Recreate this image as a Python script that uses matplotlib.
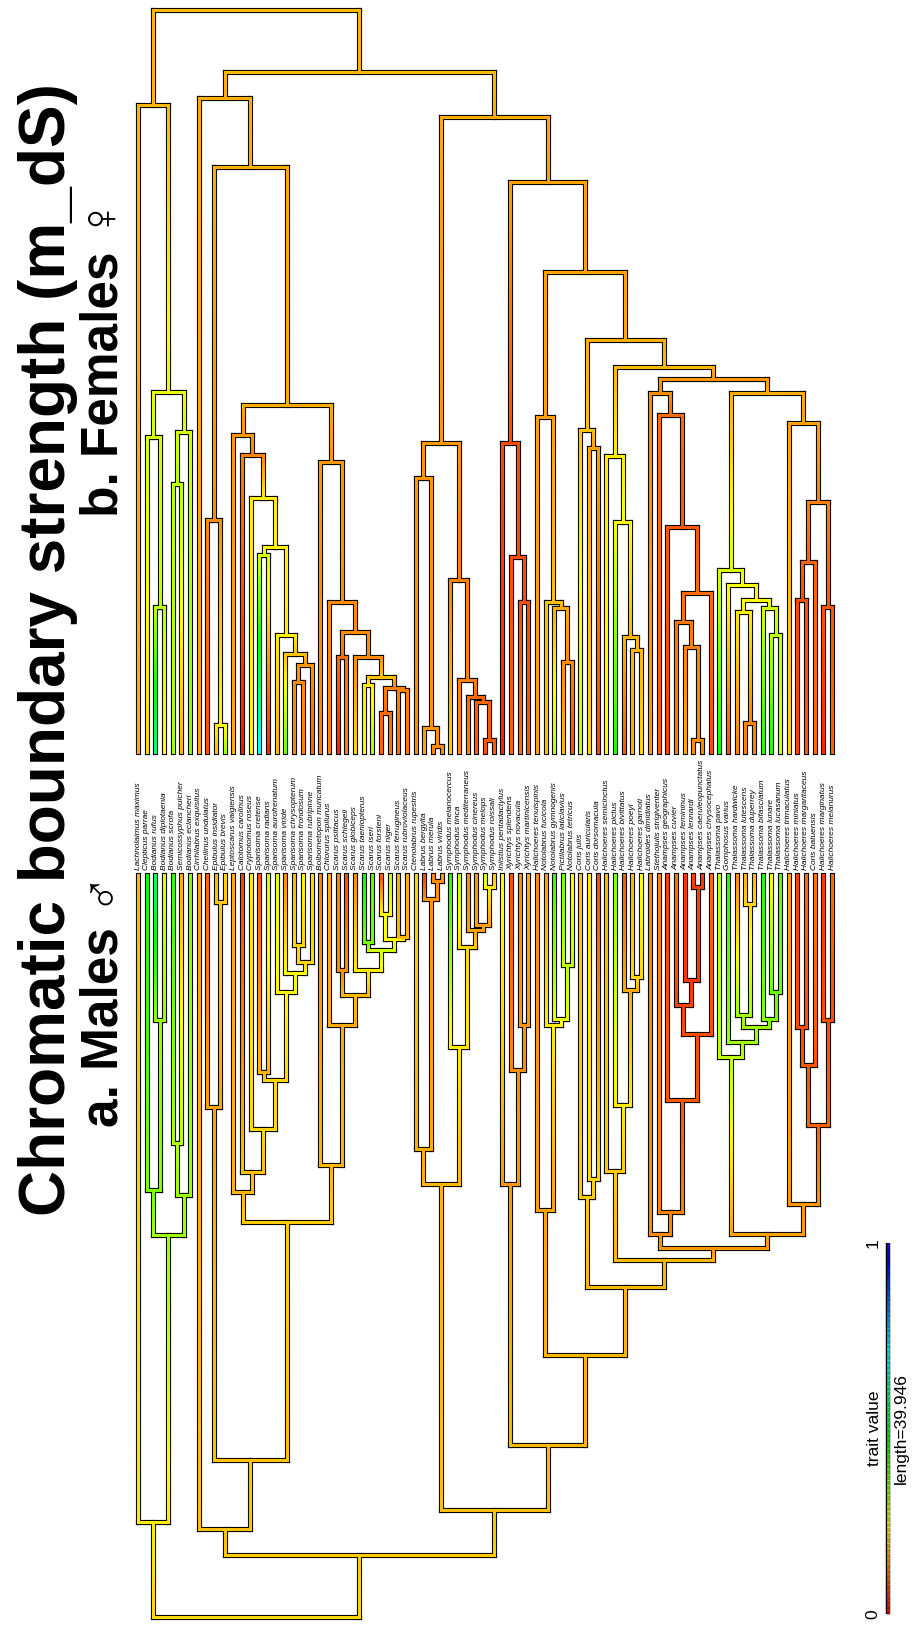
import numpy as np
import matplotlib
matplotlib.use("Agg")
import matplotlib.pyplot as plt
from matplotlib.collections import LineCollection
from matplotlib.colors import hsv_to_rgb

# tip order, left to right
tips = [
    "Lachnolaimus maximus", "Clepticus parrae", "Bodianus rufus", "Bodianus diplotaenia",
    "Bodianus scrofa", "Semicossyphus pulcher", "Bodianus eclancheri", "Cirrhilabrus exquisitus",
    "Cheilinus undulatus", "Epibulus insidiator", "Epibulus brevis", "Leptoscarus vaigiensis",
    "Calotomus carolinus", "Cryptotomus roseus", "Sparisoma cretense", "Sparisoma radians",
    "Sparisoma aurofrenatum", "Sparisoma viride", "Sparisoma chrysopterum", "Sparisoma frondosum",
    "Sparisoma rubripinne", "Bolbometopon muricatum", "Chlorurus spilurus", "Scarus psittacus",
    "Scarus schlegeli", "Scarus globiceps", "Scarus taeniopterus", "Scarus iseri",
    "Scarus forsteni", "Scarus niger", "Scarus ferrugineus", "Scarus rubroviolaceus",
    "Ctenolabrus rupestris", "Labrus bergylta", "Labrus merula", "Labrus viridis",
    "Symphodus melanocercus", "Symphodus tinca", "Symphodus mediterraneus", "Symphodus cinereus",
    "Symphodus melops", "Symphodus roissali", "Iniistius pentadactylus", "Xyrichtys splendens",
    "Xyrichtys novacula", "Xyrichtys martinicensis", "Halichoeres tenuispinis", "Notolabrus fucicola",
    "Notolabrus gymnogenis", "Pictilabrus laticlavius", "Notolabrus tetricus", "Coris julis",
    "Coris auricularis", "Coris dorsomacula", "Halichoeres semicinctus", "Halichoeres pictus",
    "Halichoeres bivittatus", "Halichoeres poeyi", "Halichoeres garnoti", "Labroides dimidiatus",
    "Stethojulis strigiventer", "Anampses geographicus", "Anampses cuvier", "Anampses femininus",
    "Anampses lennardi", "Anampses caeruleopunctatus", "Anampses chrysocephalus", "Thalassoma pavo",
    "Gomphosus varius", "Thalassoma hardwicke", "Thalassoma lutescens", "Thalassoma duperrey",
    "Thalassoma bifasciatum", "Thalassoma lunare", "Thalassoma lucasanum", "Halichoeres trimaculatus",
    "Halichoeres miniatus", "Halichoeres margaritaceus", "Coris batuensis", "Halichoeres marginatus",
    "Halichoeres melanurus",
]

male_tip = [
    .17, .47, .58, .27, .43, .16, .36, .15, .09, .17, .20, .16, .06, .22, .08, .28,
    .26, .13, .17, .23, .20, .12, .16, .12, .07, .13, .47, .40, .08, .30, .16, .16,
    .20, .07, .13, .15, .45, .30, .13, .14, .27, .18, .25, .07, .13, .16, .13, .15,
    .43, .36, .24, .18, .22, .07, .17, .35, .08, .17, .24, .12, .12, .06, .11, .05,
    .06, .05, .10, .30, .45, .13, .17, .17, .45, .24, .40, .15, .06, .10, .11, .05,
    .10,
]

female_tip = [
    .16, .20, .60, .24, .32, .17, .36, .15, .07, .18, .32, .16, .02, .23, .72, .03,
    .17, .37, .12, .12, .09, .12, .12, .03, .12, .20, .23, .32, .09, .11, .10, .11,
    .13, .16, .12, .13, .19, .12, .12, .08, .07, .09, .03, .09, .10, .08, .15, .18,
    .30, .17, .07, .30, .20, .06, .24, .45, .08, .16, .20, .14, .08, .06, .12, .16,
    .13, .12, .07, .47, .07, .12, .12, .12, .45, .45, .28, .20, .06, .08, .10, .03,
    .09,
]

# internal nodes: (node, left child, right child)
clades = [
    ("root", "A", "R1"),
    ("A", "Lachnolaimus maximus", "B"),
    ("B", "B1", "B2"),
    ("B1", "Clepticus parrae", "B1a"),
    ("B1a", "Bodianus rufus", "Bodianus diplotaenia"),
    ("B2", "B2a", "Bodianus eclancheri"),
    ("B2a", "Bodianus scrofa", "Semicossyphus pulcher"),
    ("R1", "C", "D"),
    ("C", "Cirrhilabrus exquisitus", "C2"),
    ("C2", "Ch", "P"),
    ("Ch", "Cheilinus undulatus", "Ep"),
    ("Ep", "Epibulus insidiator", "Epibulus brevis"),
    ("P", "Sp", "Sc"),
    ("Sp", "Leptoscarus vaigiensis", "Sp1"),
    ("Sp1", "Calotomus carolinus", "Sp2"),
    ("Sp2", "Cryptotomus roseus", "Sp3"),
    ("Sp3", "Sp4", "Sp5"),
    ("Sp4", "Sparisoma cretense", "Sparisoma radians"),
    ("Sp5", "Sparisoma aurofrenatum", "Sp6"),
    ("Sp6", "Sparisoma viride", "Sp7"),
    ("Sp7", "Sp8", "Sparisoma rubripinne"),
    ("Sp8", "Sparisoma chrysopterum", "Sparisoma frondosum"),
    ("Sc", "Bolbometopon muricatum", "Sc1"),
    ("Sc1", "Chlorurus spilurus", "Sc2"),
    ("Sc2", "Sc3", "Sc4"),
    ("Sc3", "Scarus psittacus", "Scarus schlegeli"),
    ("Sc4", "Scarus globiceps", "Sc5"),
    ("Sc5", "Sc6", "Sc7"),
    ("Sc6", "Scarus taeniopterus", "Scarus iseri"),
    ("Sc7", "Sc8", "Sc9"),
    ("Sc8", "Scarus forsteni", "Scarus niger"),
    ("Sc9", "Scarus ferrugineus", "Scarus rubroviolaceus"),
    ("D", "L", "E"),
    ("L", "L1", "Sy"),
    ("L1", "Ctenolabrus rupestris", "L2"),
    ("L2", "Labrus bergylta", "L3"),
    ("L3", "Labrus merula", "Labrus viridis"),
    ("Sy", "Symphodus melanocercus", "Sy1"),
    ("Sy1", "Symphodus tinca", "Sy2"),
    ("Sy2", "Symphodus mediterraneus", "Sy3"),
    ("Sy3", "Symphodus cinereus", "Sy4"),
    ("Sy4", "Symphodus melops", "Symphodus roissali"),
    ("E", "F", "G"),
    ("F", "Iniistius pentadactylus", "F1"),
    ("F1", "Xyrichtys splendens", "F2"),
    ("F2", "Xyrichtys novacula", "Xyrichtys martinicensis"),
    ("G", "GL", "H"),
    ("GL", "Halichoeres tenuispinis", "GL1"),
    ("GL1", "Notolabrus fucicola", "GL2"),
    ("GL2", "Notolabrus gymnogenis", "GL3"),
    ("GL3", "Pictilabrus laticlavius", "Notolabrus tetricus"),
    ("H", "Co", "I"),
    ("Co", "Coris julis", "Co1"),
    ("Co1", "Coris auricularis", "Coris dorsomacula"),
    ("I", "Ha", "J"),
    ("Ha", "Halichoeres semicinctus", "Ha1"),
    ("Ha1", "Halichoeres pictus", "Ha2"),
    ("Ha2", "Halichoeres bivittatus", "Ha3"),
    ("Ha3", "Halichoeres poeyi", "Halichoeres garnoti"),
    ("J", "J1", "K"),
    ("J1", "Labroides dimidiatus", "An"),
    ("An", "Stethojulis strigiventer", "An1"),
    ("An1", "Anampses geographicus", "An2"),
    ("An2", "An3", "Anampses chrysocephalus"),
    ("An3", "Anampses cuvier", "An4"),
    ("An4", "Anampses femininus", "An5"),
    ("An5", "Anampses lennardi", "Anampses caeruleopunctatus"),
    ("K", "Th", "Hm"),
    ("Th", "Thalassoma pavo", "Th1"),
    ("Th1", "Gomphosus varius", "Th2"),
    ("Th2", "Th3", "Th5"),
    ("Th3", "Thalassoma hardwicke", "Th4"),
    ("Th4", "Thalassoma lutescens", "Thalassoma duperrey"),
    ("Th5", "Thalassoma bifasciatum", "Th6"),
    ("Th6", "Thalassoma lunare", "Thalassoma lucasanum"),
    ("Hm", "Halichoeres trimaculatus", "Hm1"),
    ("Hm1", "Hm2", "Hm4"),
    ("Hm2", "Hm3", "Coris batuensis"),
    ("Hm3", "Halichoeres miniatus", "Halichoeres margaritaceus"),
    ("Hm4", "Halichoeres marginatus", "Halichoeres melanurus"),
]

# distance from root
node_age = {
    "root": 0.0, "A": 10.2, "B": 41.1, "B1": 46.0, "B1a": 64.3, "B2": 45.4, "B2a": 51.0,
    "R1": 6.7, "C": 9.5, "C2": 16.9, "Ch": 54.9, "Ep": 77.0, "P": 42.5,
    "Sp": 45.8, "Sp1": 47.9, "Sp2": 52.5, "Sp3": 57.8, "Sp4": 58.7, "Sp5": 67.3,
    "Sp6": 69.4, "Sp7": 70.5, "Sp8": 72.4,
    "Sc": 48.7, "Sc1": 63.7, "Sc2": 67.0, "Sc3": 69.7, "Sc4": 69.7, "Sc5": 71.8,
    "Sc6": 72.7, "Sc7": 73.0, "Sc8": 75.7, "Sc9": 73.2,
    "D": 11.5, "L": 46.6, "L1": 50.4, "L2": 77.3, "L3": 79.3,
    "Sy": 61.4, "Sy1": 72.1, "Sy2": 74.0, "Sy3": 74.5, "Sy4": 78.6,
    "E": 18.5, "F": 46.6, "F1": 58.9, "F2": 63.8,
    "G": 28.2, "GL": 43.8, "GL1": 63.8, "GL2": 64.4, "GL3": 70.2,
    "H": 35.5, "Co": 45.2, "Co1": 47.2,
    "I": 38.4, "Ha": 48.0, "Ha1": 55.1, "Ha2": 67.5, "Ha3": 68.9,
    "J": 39.7, "J1": 41.2, "An": 43.6, "An1": 55.7, "An2": 62.8, "An3": 65.9,
    "An4": 68.6, "An5": 78.6,
    "K": 41.2, "Th": 60.3, "Th1": 61.9, "Th2": 63.5, "Th3": 64.8, "Th4": 76.8,
    "Th5": 64.4, "Th6": 67.3,
    "Hm": 44.5, "Hm1": 53.0, "Hm2": 59.4, "Hm3": 63.5, "Hm4": 64.3,
}

male_node = {
    "root": .20, "A": .22, "B": .33, "B1": .36, "B1a": .34, "B2": .33, "B2a": .31,
    "R1": .19, "C": .18, "C2": .18, "Ch": .15, "Ep": .19, "P": .19,
    "Sp": .17, "Sp1": .18, "Sp2": .20, "Sp3": .20, "Sp4": .17, "Sp5": .23, "Sp6": .24,
    "Sp7": .20, "Sp8": .20,
    "Sc": .17, "Sc1": .16, "Sc2": .17, "Sc3": .13, "Sc4": .22, "Sc5": .28, "Sc6": .37,
    "Sc7": .24, "Sc8": .24, "Sc9": .17,
    "D": .18, "L": .17, "L1": .16, "L2": .14, "L3": .13,
    "Sy": .22, "Sy1": .20, "Sy2": .15, "Sy3": .15, "Sy4": .22,
    "E": .17, "F": .14, "F1": .13, "F2": .14,
    "G": .17, "GL": .15, "GL1": .22, "GL2": .26, "GL3": .30,
    "H": .17, "Co": .19, "Co1": .20,
    "I": .17, "Ha": .19, "Ha1": .22, "Ha2": .16, "Ha3": .20,
    "J": .14, "J1": .13, "An": .12, "An1": .08, "An2": .07, "An3": .06, "An4": .05, "An5": .06,
    "K": .15, "Th": .30, "Th1": .33, "Th2": .33, "Th3": .33, "Th4": .20, "Th5": .36, "Th6": .38,
    "Hm": .14, "Hm1": .09, "Hm2": .08, "Hm3": .07, "Hm4": .07,
}

female_node = {
    "root": .17, "A": .17, "B": .26, "B1": .28, "B1a": .30, "B2": .28, "B2a": .30,
    "R1": .17, "C": .16, "C2": .16, "Ch": .13, "Ep": .23, "P": .16,
    "Sp": .14, "Sp1": .12, "Sp2": .22, "Sp3": .23, "Sp4": .28, "Sp5": .22, "Sp6": .18,
    "Sp7": .14, "Sp8": .13,
    "Sc": .14, "Sc1": .13, "Sc2": .13, "Sc3": .10, "Sc4": .13, "Sc5": .18, "Sc6": .22,
    "Sc7": .12, "Sc8": .10, "Sc9": .12,
    "D": .16, "L": .14, "L1": .14, "L2": .14, "L3": .13,
    "Sy": .12, "Sy1": .12, "Sy2": .10, "Sy3": .09, "Sy4": .08,
    "E": .15, "F": .07, "F1": .07, "F2": .07,
    "G": .15, "GL": .15, "GL1": .18, "GL2": .16, "GL3": .13,
    "H": .16, "Co": .18, "Co1": .15,
    "I": .17, "Ha": .22, "Ha1": .24, "Ha2": .17, "Ha3": .17,
    "J": .14, "J1": .13, "An": .10, "An1": .08, "An2": .10, "An3": .11, "An4": .12, "An5": .13,
    "K": .16, "Th": .27, "Th1": .25, "Th2": .24, "Th3": .22, "Th4": .12, "Th5": .28, "Th6": .30,
    "Hm": .15, "Hm1": .12, "Hm2": .09, "Hm3": .07, "Hm4": .08,
}

TREE_HEIGHT = 79.9
LEGEND_LENGTH = 39.946

FONT = ["Liberation Sans", "DejaVu Sans"]


def trait_colour(v):
    # rainbow from red (0) to blue (1), like R's rainbow(start=0, end=0.7)
    return hsv_to_rgb([0.7 * float(np.clip(v, 0, 1)), 1.0, 1.0])


kids = {p: (a, b) for p, a, b in clades}
xpos = {name: i for i, name in enumerate(tips)}


def place(n):
    if n not in xpos:
        a, b = kids[n]
        xpos[n] = (place(a) + place(b)) / 2
    return xpos[n]


place("root")
age = dict(node_age)
for t in tips:
    age[t] = TREE_HEIGHT


def draw_tree(ax, tip_vals, node_vals):
    val = dict(node_vals)
    val.update(zip(tips, tip_vals))
    outline, segs, cols = [], [], []
    for p, a, b in clades:
        outline.append([(xpos[a], age[p]), (xpos[b], age[p])])
        segs.append([(xpos[a], age[p]), (xpos[b], age[p])])
        cols.append(trait_colour(val[p]))
        for c in (a, b):
            outline.append([(xpos[c], age[p]), (xpos[c], age[c])])
            n = max(2, int((age[c] - age[p]) / 0.3) + 1)
            ys = np.linspace(age[p], age[c], n + 1)
            for k in range(n):
                segs.append([(xpos[c], ys[k]), (xpos[c], ys[k + 1])])
                cols.append(trait_colour(val[p] + (val[c] - val[p]) * (k + 0.5) / n))
    ax.add_collection(LineCollection(outline, colors="black", linewidths=3.7,
                                     capstyle="projecting", zorder=1, clip_on=False))
    ax.add_collection(LineCollection(segs, colors=cols, linewidths=2.2,
                                     capstyle="projecting", zorder=2, clip_on=False))
    ax.set_xlim(0, len(tips) - 1)
    ax.axis("off")


W, H = 916, 1626
fig = plt.figure(figsize=(W / 100, H / 100), dpi=100)

x0, x1 = 138, 832
ax_f = fig.add_axes([x0 / W, 1 - 752 / H, (x1 - x0) / W, 742 / H])
draw_tree(ax_f, female_tip, female_node)
ax_f.set_ylim(TREE_HEIGHT, 0)

ax_m = fig.add_axes([x0 / W, 1 - 1617 / H, (x1 - x0) / W, 742 / H])
draw_tree(ax_m, male_tip, male_node)
ax_m.set_ylim(0, TREE_HEIGHT)

# tip labels between the two trees
for i, name in enumerate(tips):
    ax_m.text(i, TREE_HEIGHT + 0.55, name, rotation=90, ha="center", va="bottom",
              fontsize=6, style="italic", family=FONT)

# colour legend
bar_x = 86.45
bar_y = np.linspace(0.3, 0.3 + LEGEND_LENGTH, 301)
ax_m.add_collection(LineCollection([[(bar_x, bar_y[0]), (bar_x, bar_y[-1])]], colors="black",
                                   linewidths=3.2, capstyle="butt", clip_on=False, zorder=1))
bar_segs = [[(bar_x, bar_y[k]), (bar_x, bar_y[k + 1])] for k in range(300)]
bar_cols = [trait_colour((k + 0.5) / 300) for k in range(300)]
ax_m.add_collection(LineCollection(bar_segs, colors=bar_cols, linewidths=2.0,
                                   capstyle="butt", clip_on=False, zorder=2))
ax_m.text(bar_x - 1.75, bar_y[0], "0", rotation=90, ha="center", va="center",
          fontsize=12.5, family=FONT)
ax_m.text(bar_x - 1.75, bar_y[-1], "1", rotation=90, ha="center", va="center",
          fontsize=12.5, family=FONT)
ax_m.text(bar_x - 1.6, 0.3 + LEGEND_LENGTH / 2, "trait value", rotation=90,
          ha="center", va="center", fontsize=12.5, family=FONT)
ax_m.text(bar_x + 1.6, 0.3 + LEGEND_LENGTH / 2, "length=%.3f" % LEGEND_LENGTH, rotation=90,
          ha="center", va="center", fontsize=12.5, family=FONT)

# titles
fig.text(48 / W, 1 - 650 / H, "Chromatic boundary strength (m_dS)", rotation=90,
         ha="center", va="center", fontsize=46, fontweight="bold", family=FONT)
fig.text(104 / W, 1 - 1001 / H, "a. Males \u2642", rotation=90,
         ha="center", va="center", fontsize=37, fontweight="bold", family=FONT)
fig.text(104 / W, 1 - 358 / H, "b. Females \u2640", rotation=90,
         ha="center", va="center", fontsize=37, fontweight="bold", family=FONT)

fig.savefig("out.png", dpi=100)
